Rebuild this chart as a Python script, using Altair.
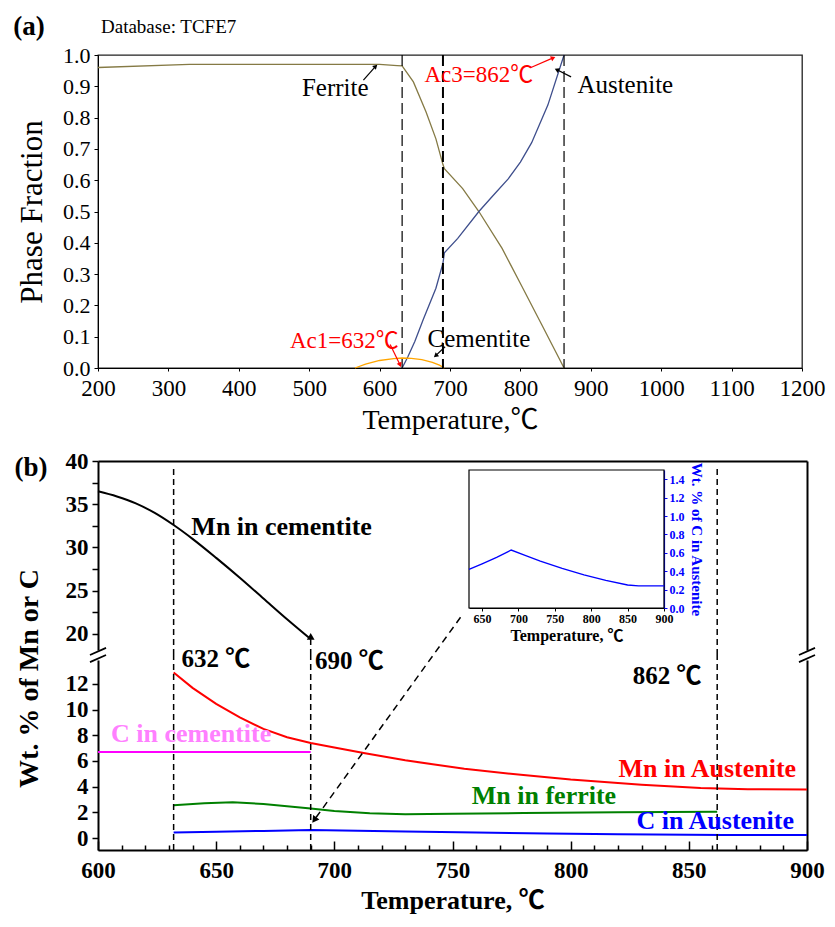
import altair as alt
import pandas as pd

FONT = "Liberation Serif, Noto Sans CJK SC"

# ---------------- panel (a): phase fractions ----------------
ferrite_T = [200, 330, 600, 625, 632, 648, 666, 680, 690, 692, 718, 741, 774, 800, 830, 862]
ferrite_f = [0.960, 0.970, 0.970, 0.966, 0.965, 0.914, 0.818, 0.732, 0.650, 0.637, 0.573, 0.500, 0.382, 0.270, 0.140, 0.000]
austenite_T = [632, 640, 650, 662, 680, 690, 692, 711, 741, 760, 783, 800, 816, 839, 862]
austenite_f = [0.0, 0.035, 0.085, 0.155, 0.255, 0.335, 0.368, 0.414, 0.500, 0.548, 0.605, 0.658, 0.720, 0.840, 1.000]
cementite_T = [565, 580, 600, 620, 632, 645, 660, 675, 685, 692]
cementite_f = [0.0, 0.012, 0.024, 0.030, 0.032, 0.031, 0.027, 0.018, 0.009, 0.0]
critical_T = [632, 690, 862]
phase_names = ["Ferrite", "Austenite", "Cementite"]
phase_colors = ["#857A45", "#3E4E8C", "#FFA500"]

# annotations (a), in data units
a_black_labels = ["Ferrite", "Austenite", "Cementite"]
a_black_T = [537, 949, 741]
a_black_v = [0.895, 0.904, 0.092]
a_red_labels = ["Ac3=862℃", "Ac1=632℃"]
a_red_T = [741, 550]
a_red_v = [0.936, 0.086]
a_black_arrow = {"T": [577.0, 872.0, 693.0], "v": [0.920, 0.930, 0.068],
                 "T2": [593.6, 852.7, 680.4], "v2": [0.962, 0.952, 0.041], "ang": [45, 297, 229]}
a_red_arrow = {"T": [815.0, 615.0], "v": [0.960, 0.075],
               "T2": [845.6, 628.6], "v2": [0.990, 0.012], "ang": [66, 158]}

# ---------------- panel (b): compositions ----------------
mn_cem_T = [600, 608, 616, 624, 632, 640, 650, 660, 670, 680, 690]
mn_cem_v = [36.5, 35.9, 35.1, 34.0, 32.6, 31.0, 28.8, 26.5, 24.1, 21.7, 19.4]
mn_aus_T = [632, 640, 650, 660, 670, 680, 690, 700, 713, 730, 755, 780, 800, 830, 855, 875, 900]
mn_aus_v = [12.9, 11.7, 10.45, 9.4, 8.5, 7.85, 7.4, 7.05, 6.6, 6.05, 5.4, 4.9, 4.55, 4.15, 3.9, 3.8, 3.78]
mn_fer_T = [632, 645, 657, 670, 690, 700, 715, 730, 750, 780, 820, 862]
mn_fer_v = [2.55, 2.7, 2.78, 2.65, 2.3, 2.1, 1.92, 1.85, 1.88, 1.95, 2.0, 2.05]
c_aus_T = [632, 650, 670, 690, 710, 730, 760, 790, 820, 850, 865, 900]
c_aus_v = [0.42, 0.48, 0.55, 0.63, 0.57, 0.51, 0.43, 0.36, 0.30, 0.25, 0.24, 0.24]
c_cem_T = [600, 690]
c_cem_v = [6.7, 6.7]
b_names = ["Mn in Austenite", "Mn in ferrite", "C in Austenite", "C in cementite"]
b_colors = ["#FF0000", "#008000", "#0000FF", "#FF00FF"]

UP_DOM = [18.15, 40]
LOW_DOM = [-0.935, 13.87]
INSET_T = [632, 900]
INSET_V = [0, 1.5]

W_A, H_A = 704, 313
W_B, H_BU, H_BL = 709, 189, 190


def frame(d):
    return pd.DataFrame(d)


def arrow_layers(d, color, xs, xax, ys, yax, width=1.2, size=35, dash=None):
    df = frame(d)
    kw = dict(color=color, strokeWidth=width)
    if dash:
        kw["strokeDash"] = dash
    line = alt.Chart(df).mark_rule(**kw).encode(
        x=alt.X("T:Q", scale=xs, axis=xax), y=alt.Y("v:Q", scale=ys, axis=yax),
        x2=alt.X2("T2:Q"), y2=alt.Y2("v2:Q"))
    head = alt.Chart(df).mark_point(shape="triangle", filled=True, size=size, color=color, opacity=1).encode(
        x=alt.X("T2:Q", scale=xs, axis=xax), y=alt.Y("v2:Q", scale=ys, axis=yax),
        angle=alt.Angle("ang:Q", scale=None))
    return [line, head]


# ====================== panel (a) ======================
xa_scale = alt.Scale(domain=[200, 1200], nice=False)
xa_axis = alt.Axis(values=list(range(200, 1201, 100)), format="d", title="Temperature,℃",
                   labelFont=FONT, labelFontSize=23, labelColor="black",
                   titleFont=FONT, titleFontSize=28, titleFontWeight="normal", titleColor="black",
                   tickSize=3, tickColor="black", domainColor="black", labelPadding=6,
                   titlePadding=6, grid=False, labelFlush=False, labelOverlap=False)
ya_scale = alt.Scale(domain=[0, 1], nice=False)
ya_axis = alt.Axis(values=[i / 10 for i in range(11)], format=".1f", title="Phase Fraction",
                   labelFont=FONT, labelFontSize=22, labelColor="black",
                   titleFont=FONT, titleFontSize=31, titleFontWeight="normal", titleColor="black",
                   tickSize=4, tickColor="black", domainColor="black", labelPadding=4,
                   titlePadding=14, grid=False, labelOverlap=False)
xa = alt.X("T:Q", scale=xa_scale, axis=xa_axis)
ya = alt.Y("v:Q", scale=ya_scale, axis=ya_axis)

df_a = pd.concat([
    pd.DataFrame({"T": ferrite_T, "v": ferrite_f, "s": "Ferrite"}),
    pd.DataFrame({"T": austenite_T, "v": austenite_f, "s": "Austenite"}),
    pd.DataFrame({"T": cementite_T, "v": cementite_f, "s": "Cementite"}),
])
lines_a = alt.Chart(df_a).mark_line(strokeWidth=1.3).encode(
    x=xa, y=ya,
    color=alt.Color("s:N", scale=alt.Scale(domain=phase_names, range=phase_colors), legend=None))

crit = pd.DataFrame({"T": critical_T})
rules_a = alt.Chart(crit).transform_filter("datum.T != 690").mark_rule(
    strokeDash=[11, 5], color="black", strokeWidth=1.2).encode(x=xa)
rule_a_mid = alt.Chart(crit).transform_filter("datum.T == 690").mark_rule(
    strokeDash=[11, 5], color="black", strokeWidth=2).encode(x=xa)

txt_a_black = alt.Chart(frame({"label": a_black_labels, "T": a_black_T, "v": a_black_v})).mark_text(
    font=FONT, fontSize=25, color="black", align="center", baseline="middle").encode(x=xa, y=ya, text="label:N")
txt_a_red = alt.Chart(frame({"label": a_red_labels, "T": a_red_T, "v": a_red_v})).mark_text(
    font=FONT, fontSize=23, color="red", align="center", baseline="middle").encode(x=xa, y=ya, text="label:N")

arr_a = (arrow_layers(a_black_arrow, "black", xa_scale, xa_axis, ya_scale, ya_axis, size=28)
         + arrow_layers(a_red_arrow, "red", xa_scale, xa_axis, ya_scale, ya_axis, size=28))

panel_tag_a = alt.Chart(frame({"t": ["(a)"]})).mark_text(
    font=FONT, fontSize=27, fontWeight="bold", color="black", align="center", baseline="middle").encode(
    text="t:N", x=alt.value(-69), y=alt.value(-28))
db_txt = alt.Chart(frame({"t": ["Database: TCFE7"]})).mark_text(
    font=FONT, fontSize=19, color="black", align="left", baseline="middle").encode(
    text="t:N", x=alt.value(3), y=alt.value(-28))

panel_a = alt.layer(lines_a, rules_a, rule_a_mid, txt_a_black, txt_a_red, *arr_a, panel_tag_a, db_txt).properties(
    width=W_A, height=H_A, view={"stroke": "#222222", "strokeWidth": 1.3})

# ====================== panel (b) upper ======================
ax_common = dict(labelFont=FONT, labelFontWeight="bold", labelColor="black", titleFont=FONT,
                 titleColor="black", tickColor="black", domainColor="black", grid=False, labelOverlap=False)

xb_scale = alt.Scale(domain=[600, 900], nice=False)
xb_top = alt.X("T:Q", scale=xb_scale,
               axis=alt.Axis(orient="top", labels=False, ticks=False, title=None, domainColor="black",
                             domainWidth=2, grid=False))
yb_up = alt.Y("v:Q", scale=alt.Scale(domain=UP_DOM, nice=False, zero=False),
              axis=alt.Axis(values=[20, 22.5, 25, 27.5, 30, 32.5, 35, 37.5, 40], format="d",
                            labelExpr="datum.value % 5 === 0 ? datum.label : ''",
                            labelFontSize=23, tickSize=6, tickWidth=1.5, domainWidth=2,
                            labelPadding=4, title=None, **ax_common))

mn_cem_line = alt.Chart(frame({"T": mn_cem_T, "v": mn_cem_v})).mark_line(
    color="black", strokeWidth=2, interpolate="monotone").encode(x=xb_top, y=yb_up)
up_rules = alt.Chart(frame({"T": [632, 862, 690], "v": [17.57, 17.57, 17.57], "v2": [39.1, 39.2, 19.4]})).mark_rule(
    strokeDash=[6, 4], color="black", strokeWidth=1.5).encode(x=xb_top, y=yb_up, y2=alt.Y2("v2:Q"))
mn_cem_head = alt.Chart(frame({"T": [690], "v": [19.6]})).mark_point(
    shape="triangle", filled=True, size=60, color="black", opacity=1).encode(x=xb_top, y=yb_up)
up_txt = alt.Chart(frame({"label": ["Mn in cementite"], "T": [639.5], "v": [32.4]})).mark_text(
    font=FONT, fontSize=26, fontWeight="bold", color="black", align="left", baseline="middle").encode(
    x=xb_top, y=yb_up, text="label:N")
tag_b = alt.Chart(frame({"t": ["(b)"]})).mark_text(
    font=FONT, fontSize=27, fontWeight="bold", color="black", align="center", baseline="middle").encode(
    text="t:N", x=alt.value(-67), y=alt.value(7))

main_up = alt.layer(mn_cem_line, up_rules, mn_cem_head, up_txt, tag_b)

# inset
xi = alt.X("T:Q", scale=alt.Scale(domain=INSET_T, range=[371, 566], nice=False),
           axis=alt.Axis(orient="bottom", offset=-(H_BU - 147), values=[650, 700, 750, 800, 850, 900],
                         labelFontSize=12, labelPadding=2, tickSize=3, domainWidth=1.2,
                         title="Temperature, ℃", titleFontSize=16, titleFontWeight="bold", titlePadding=3,
                         labelFlush=False, **ax_common))
yi = alt.Y("v:Q", scale=alt.Scale(domain=INSET_V, range=[147, 9], nice=False, zero=False),
           axis=alt.Axis(orient="right", offset=-(W_B - 566), values=[0, 0.2, 0.4, 0.6, 0.8, 1.0, 1.2, 1.4],
                         format=".1f", labelFont=FONT, labelFontWeight="bold", labelFontSize=12,
                         labelColor="#0000FF", tickColor="#0000FF", domainColor="#0000FF", tickSize=3,
                         labelPadding=2, domainWidth=1.2,
                         title="Wt. % of C in Austenite", titleFont=FONT, titleFontSize=15,
                         titleFontWeight="bold", titleColor="#0000FF", titlePadding=4, grid=False,
                         labelOverlap=False))
inset_box = alt.Chart(frame({"T": [INSET_T[0]], "T2": [INSET_T[1]], "v": [INSET_V[0]], "v2": [INSET_V[1]]})).mark_rect(
    filled=False, stroke="black", strokeWidth=1.2).encode(x=xi, x2="T2:Q", y=yi, y2="v2:Q")
inset_line = alt.Chart(frame({"T": c_aus_T, "v": c_aus_v})).mark_line(
    color="#0000FF", strokeWidth=1.3).encode(x=xi, y=yi)
inset = alt.layer(inset_box, inset_line)

border_up = alt.Chart(frame({"v": UP_DOM})).mark_point(opacity=0).encode(
    y=alt.Y("v:Q", scale=alt.Scale(domain=UP_DOM, nice=False, zero=False),
            axis=alt.Axis(orient="right", labels=False, ticks=False, title=None, domainColor="black",
                          domainWidth=2, grid=False)))

upper = alt.layer(main_up, inset, border_up).resolve_scale(x="independent", y="independent").properties(
    width=W_B, height=H_BU)

# ====================== panel (b) lower ======================
xb_bot_axis = alt.Axis(orient="bottom", values=[600, 650, 700, 750, 800, 850, 900], labelFontSize=23,
                       labelPadding=9, ticks=False, domainWidth=2, title="Temperature, ℃",
                       titleFontSize=26, titleFontWeight="bold", titlePadding=5, labelFlush=False,
                       **ax_common)
low_scale = alt.Scale(domain=LOW_DOM, nice=False, zero=False)
yb_low_axis = alt.Axis(values=[0, 2, 4, 6, 8, 10, 12], format="d", labelFontSize=23, tickSize=6,
                       tickWidth=1.5, domainWidth=2, labelPadding=4,
                       title="Wt. % of Mn or C", titleFontSize=28, titleFontWeight="bold",
                       titleX=-69, titleY=18, titleBaseline="middle", **ax_common)
xb_bot = alt.X("T:Q", scale=xb_scale, axis=xb_bot_axis)
yb_low = alt.Y("v:Q", scale=low_scale, axis=yb_low_axis)

df_b = pd.concat([
    pd.DataFrame({"T": mn_aus_T, "v": mn_aus_v, "s": "Mn in Austenite"}),
    pd.DataFrame({"T": mn_fer_T, "v": mn_fer_v, "s": "Mn in ferrite"}),
    pd.DataFrame({"T": c_aus_T, "v": c_aus_v, "s": "C in Austenite"}),
    pd.DataFrame({"T": c_cem_T, "v": c_cem_v, "s": "C in cementite"}),
])
lines_b = alt.Chart(df_b).mark_line(strokeWidth=2).encode(
    x=xb_bot, y=yb_low,
    color=alt.Color("s:N", scale=alt.Scale(domain=b_names, range=b_colors), legend=None))

low_rules = alt.Chart(frame({"T": critical_T, "v": [LOW_DOM[0]] * 3, "v2": [14.26] * 3})).mark_rule(
    strokeDash=[6, 4], color="black", strokeWidth=1.5).encode(x=xb_bot, y=yb_low, y2=alt.Y2("v2:Q"))

diag = arrow_layers({"T": [753.4], "v": [17.2], "T2": [691.8], "v2": [1.48], "ang": [216]},
                    "black", xb_scale, xb_bot_axis, low_scale, yb_low_axis, width=1.5, size=60, dash=[7, 5])

breaks = alt.Chart(frame({"T": [596.6, 596.6, 896.6, 896.6], "T2": [603.4, 603.4, 903.4, 903.4],
                          "v": [14.26, 13.71, 14.26, 13.71], "v2": [14.81, 14.26, 14.81, 14.26]})).mark_rule(
    color="black", strokeWidth=1.8).encode(x=xb_bot, x2="T2:Q", y=yb_low, y2="v2:Q")

temp_labels = alt.Chart(frame({"label": ["632 ℃", "690 ℃"], "T": [635.3, 691.8], "v": [13.95, 13.8]})).mark_text(
    font=FONT, fontSize=25, fontWeight="bold", color="black", align="left", baseline="middle").encode(
    x=xb_bot, y=yb_low, text="label:N")
temp_label_r = alt.Chart(frame({"label": ["862 ℃"], "T": [855.4], "v": [12.6]})).mark_text(
    font=FONT, fontSize=25, fontWeight="bold", color="black", align="right", baseline="middle").encode(
    x=xb_bot, y=yb_low, text="label:N")


def b_label(text, T, v, color, align):
    return alt.Chart(frame({"label": [text], "T": [T], "v": [v]})).mark_text(
        font=FONT, fontSize=26, fontWeight="bold", color=color, align=align, baseline="middle").encode(
        x=xb_bot, y=yb_low, text="label:N")


lbls_b = [
    b_label("C in cementite", 605.5, 8.1, "#FF80FF", "left"),
    b_label("Mn in Austenite", 895.4, 5.4, "#FF0000", "right"),
    b_label("Mn in ferrite", 788.7, 3.3, "#008000", "center"),
    b_label("C in Austenite", 894.5, 1.3, "#0000FF", "right"),
]

main_low = alt.layer(lines_b, low_rules, *diag, breaks, temp_labels, temp_label_r, *lbls_b)

border_low = alt.Chart(frame({"T": [600, 900], "v": LOW_DOM})).mark_point(opacity=0).encode(
    x=alt.X("T:Q", scale=alt.Scale(domain=[600, 900], nice=False),
            axis=alt.Axis(orient="top", offset=-H_BL, values=list(range(600, 901, 10)), labels=False,
                          domain=False, title=None, tickColor="black", tickWidth=1.5,
                          tickSize={"condition": {"test": "datum.value % 50 === 0", "value": 9}, "value": 5},
                          grid=False)),
    y=alt.Y("v:Q", scale=alt.Scale(domain=LOW_DOM, nice=False, zero=False),
            axis=alt.Axis(orient="right", labels=False, ticks=False, title=None, domainColor="black",
                          domainWidth=2, grid=False)))

lower = alt.layer(main_low, border_low).resolve_scale(x="independent", y="independent").properties(
    width=W_B, height=H_BL)

panel_b = alt.vconcat(upper, lower, spacing=10, bounds="flush")

chart = alt.vconcat(panel_a, panel_b, spacing=93, bounds="flush").resolve_scale(
    color="independent"
).properties(
    padding={"left": 4, "top": 4, "right": 0, "bottom": 0}, background="white"
).configure_view(stroke="transparent")

chart.save("out.html", embed_options={"renderer": "svg", "actions": False})
